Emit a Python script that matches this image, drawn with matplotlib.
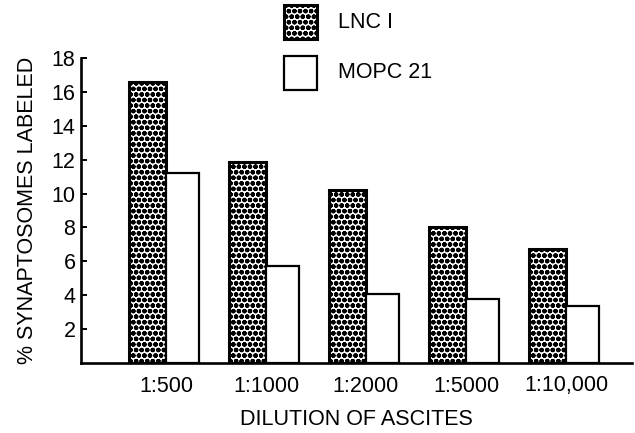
import matplotlib
matplotlib.use("Agg")
import matplotlib.pyplot as plt
import numpy as np
from matplotlib.patches import Rectangle

categories = ["1:500", "1:1000", "1:2000", "1:5000", "1:10,000"]
series_names = ["LNC I", "MOPC 21"]
lnc_values = [16.6, 11.85, 10.2, 8.05, 6.75]
mopc_values = [11.2, 5.7, 4.05, 3.8, 3.35]
y_ticks = [2, 4, 6, 8, 10, 12, 14, 16, 18]

plt.rcParams['font.family'] = ['Liberation Sans', 'DejaVu Sans']
plt.rcParams['hatch.linewidth'] = 1.6
plt.rcParams['hatch.color'] = 'black'

W, H = 635, 433
fig = plt.figure(figsize=(W / 100, H / 100), dpi=100)
ax = fig.add_axes([81 / W, 1 - 363 / H, (632 - 81) / W, (363 - 58) / H])

x = np.arange(len(categories))
w_lnc = 0.37
w_mopc = 0.33
ax.bar(x - w_lnc / 2, lnc_values, width=w_lnc, facecolor='white',
       edgecolor='black', linewidth=2.2, hatch='ooo', zorder=2)
ax.bar(x + w_mopc / 2, mopc_values, width=w_mopc, facecolor='white',
       edgecolor='black', linewidth=1.6, zorder=2)

ax.set_xlim(-0.85, 4.66)
ax.set_ylim(0, 18)
ax.set_yticks(y_ticks)
ax.set_yticklabels([str(t) for t in y_ticks], fontsize=15.5)
ax.set_xticks(x)
ax.set_xticklabels(categories, fontsize=15.5)

for s in ['top', 'right']:
    ax.spines[s].set_visible(False)
for s in ['left', 'bottom']:
    ax.spines[s].set_linewidth(1.9)
    ax.spines[s].set_zorder(3)

ax.tick_params(axis='y', direction='in', length=4, width=1.4, pad=4)
ax.tick_params(axis='x', length=0, pad=9)

ax.set_ylabel("% SYNAPTOSOMES LABELED", fontsize=15.5, labelpad=10)
ax.set_xlabel("DILUTION OF ASCITES", fontsize=15.5, labelpad=9)

# legend drawn in figure coordinates
box_w, box_h = 33 / W, 34 / H
fig.patches.append(Rectangle((284 / W, 1 - 39 / H), box_w, box_h,
                             transform=fig.transFigure, facecolor='white',
                             edgecolor='black', linewidth=2.2, hatch='ooo'))
fig.patches.append(Rectangle((284 / W, 1 - 90 / H), box_w, box_h,
                             transform=fig.transFigure, facecolor='white',
                             edgecolor='black', linewidth=1.6))
fig.text(338 / W, 1 - 22 / H, series_names[0], fontsize=15.5, va='center', ha='left')
fig.text(338 / W, 1 - 73 / H, series_names[1], fontsize=15.5, va='center', ha='left')

fig.savefig("out.png", dpi=100)
